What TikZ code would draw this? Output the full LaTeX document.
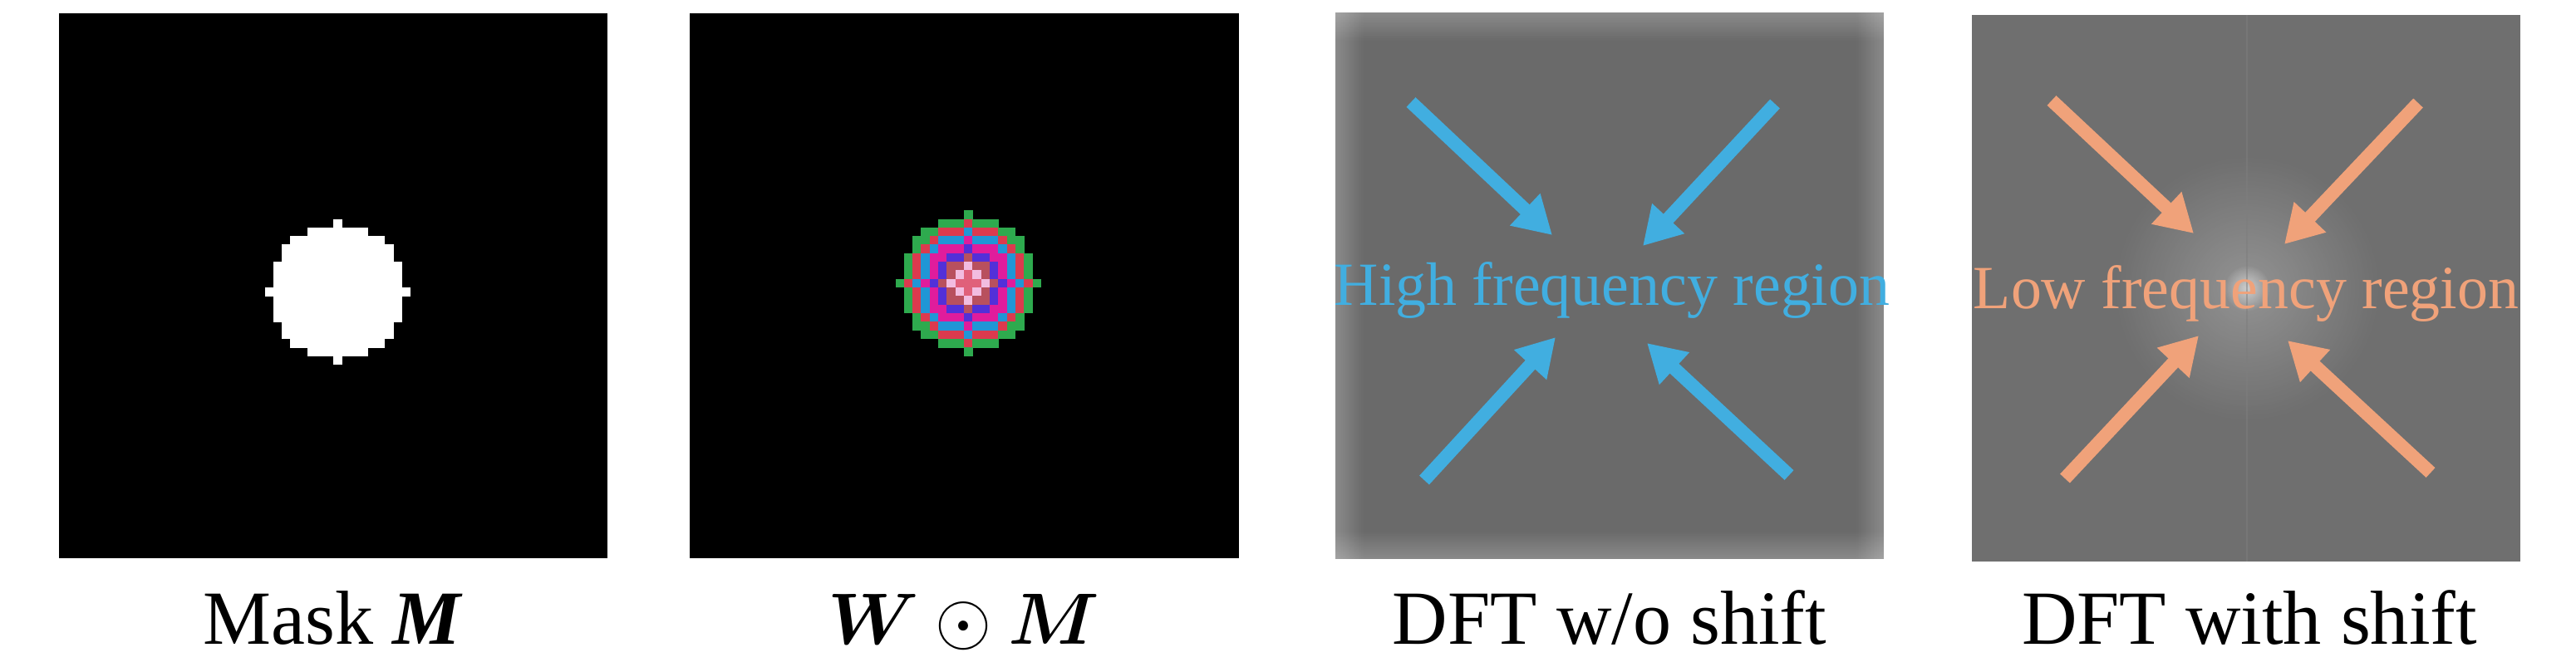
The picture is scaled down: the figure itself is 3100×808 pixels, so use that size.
\documentclass[tikz,border=0pt]{standalone}
\usepackage{fontspec}
\setmainfont{Liberation Serif}
\usepackage{amsmath}
\usetikzlibrary{arrows.meta,fadings}
\definecolor{arrblue}{HTML}{41AEE0}
\definecolor{arrorange}{HTML}{F0A27A}
\definecolor{ring1}{HTML}{E0607A}
\definecolor{ring2}{HTML}{F2BCE0}
\definecolor{ring3}{HTML}{B8505E}
\definecolor{ring4}{HTML}{5230D8}
\definecolor{ring5}{HTML}{E01C9C}
\definecolor{ring6}{HTML}{2096D6}
\definecolor{ring7}{HTML}{DC3A4E}
\definecolor{ring8}{HTML}{2EAA4E}
\definecolor{dftA}{HTML}{6A6A6A}
\definecolor{dftD}{HTML}{6F6F6F}
\definecolor{seam}{HTML}{7E7E7E}
\tikzfading[name=fromleft, left color=transparent!0, right color=transparent!100]
\tikzfading[name=fromright, left color=transparent!100, right color=transparent!0]
\tikzfading[name=fromtop, top color=transparent!0, bottom color=transparent!100]
\tikzfading[name=frombottom, top color=transparent!100, bottom color=transparent!0]
\tikzfading[name=centreout, inner color=transparent!0, outer color=transparent!100]
\tikzset{
  caption/.style={anchor=base, inner sep=0pt, font=\fontsize{26.2}{30}\selectfont},
  inlabel/.style={anchor=base, inner sep=0pt, font=\fontsize{21}{25}\selectfont},
  bigarrow/.style={line width=0.16cm, -{Triangle[length=0.45cm, width=0.5cm]}},
  edgeglow/.style={fill=white, fill opacity=0.22},
}
\begin{document}
\begin{tikzpicture}[x=0.01cm, y=-0.01cm]
\useasboundingbox (0,0) rectangle (3100,808);
\fill[white] (0,0) rectangle (3100,808);
\def\px{10.3125}
% Panel 1: mask
\fill[black] (71,16) rectangle (731,672);
\foreach \dx in {-8,...,8}{
  \foreach \dy in {-8,...,8}{
    \pgfmathtruncatemacro\rr{\dx*\dx+\dy*\dy}
    \ifnum\rr<65
      \fill[white] ({71+(32+\dx)*\px},{16+(32+\dy)*\px}) rectangle ++({\px+0.4},{\px+0.4});
    \fi
  }
}
% Panel 2: W (.) M
\fill[black] (830,16) rectangle (1491,672);
\foreach \dx in {-8,...,8}{
  \foreach \dy in {-8,...,8}{
    \pgfmathtruncatemacro\rr{\dx*\dx+\dy*\dy}
    \ifnum\rr<65
      \pgfmathtruncatemacro\dd{\rr<=1 ? 1 : (\rr<=4 ? 2 : (\rr<=9 ? 3 : (\rr<=16 ? 4 : (\rr<=25 ? 5 : (\rr<=36 ? 6 : (\rr<=49 ? 7 : 8))))))}
      \fill[ring\dd] ({830+(32+\dx)*\px},{16+(31+\dy)*\px}) rectangle ++({\px+0.4},{\px+0.4});
    \fi
  }
}
% Panel 3: DFT w/o shift (lighter rim)
\fill[dftA] (1607,15) rectangle (2267,673);
\fill[edgeglow, path fading=fromleft] (1607,15) rectangle (1641,673);
\fill[edgeglow, path fading=fromright] (2233,15) rectangle (2267,673);
\fill[edgeglow, path fading=fromtop] (1607,15) rectangle (2267,49);
\fill[edgeglow, path fading=frombottom] (1607,639) rectangle (2267,673);
% Panel 4: DFT with shift (bright centre)
\fill[dftD] (2373,18) rectangle (3033,676);
\fill[white, fill opacity=0.25, path fading=centreout] (2704,347) circle (160);
\fill[white, fill opacity=0.55, path fading=centreout] (2704,347) circle (28);
\draw[seam, line width=0.025cm, opacity=0.5] (2704,18) -- (2704,676);

% arrows panel 3
\coordinate (h1t) at (1698,123); \coordinate (h1h) at (1868,283);
\coordinate (h2t) at (2136,125); \coordinate (h2h) at (1977,296);
\coordinate (h3t) at (1714,578); \coordinate (h3h) at (1872,406);
\coordinate (h4t) at (2153,572); \coordinate (h4h) at (1982,413);
\foreach \i in {1,2,3,4}{\draw[bigarrow, arrblue] (h\i t) -- (h\i h);}
\node[inlabel, text=arrblue] (hightxt) at (1940,367) {High frequency region};

% arrows panel 4
\coordinate (l1t) at (2469,121); \coordinate (l1h) at (2640,281);
\coordinate (l2t) at (2910,124); \coordinate (l2h) at (2749,294);
\coordinate (l3t) at (2485,576); \coordinate (l3h) at (2646,404);
\coordinate (l4t) at (2925,569); \coordinate (l4h) at (2753,410);
\foreach \i in {1,2,3,4}{\draw[bigarrow, arrorange] (l\i t) -- (l\i h);}
\node[inlabel, text=arrorange] (lowtxt) at (2703,371) {Low frequency region};

% captions
\node[caption] (cap1) at (401,775) {Mask \textit{\textbf{M}}};
\node[caption] (cap2) at (1160,775) {$\boldsymbol{W}\odot\boldsymbol{M}$};
\node[caption] (cap3) at (1937,775) {DFT w/o shift};
\node[caption] (cap4) at (2707,775) {DFT with shift};
\end{tikzpicture}
\end{document}
